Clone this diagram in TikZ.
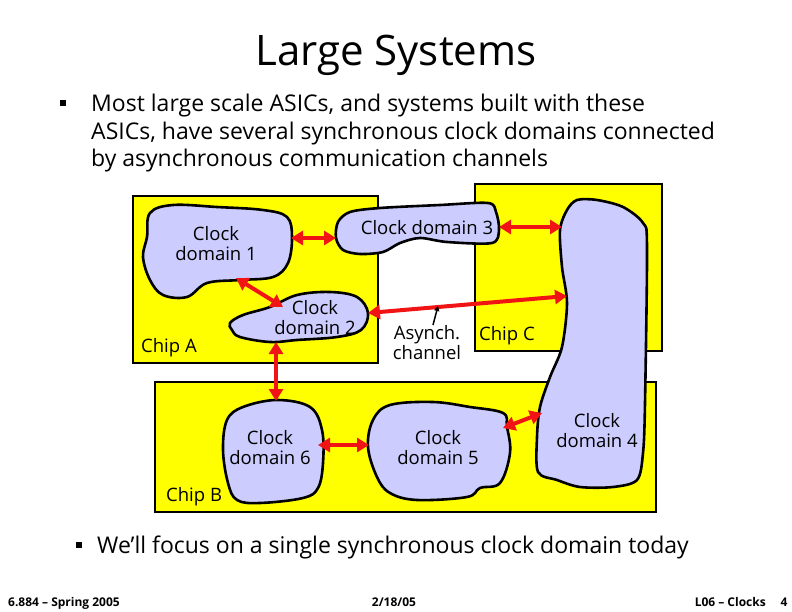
\documentclass[tikz,border=0pt]{standalone}
\usepackage{fontspec}
\setmainfont{Open Sans}
\usetikzlibrary{arrows.meta}
\definecolor{chipyellow}{RGB}{255,255,0}
\definecolor{blobblue}{RGB}{204,204,255}
\definecolor{arrowred}{RGB}{240,20,20}
\tikzset{
  chip/.style={fill=chipyellow,draw=black,line width=2pt},
  blob/.style={fill=blobblue,draw=black,line width=2.6pt,line join=round},
  link/.style={draw=arrowred,line width=4pt,{Triangle[width=14pt,length=12pt]}-{Triangle[width=14pt,length=12pt]}},
  lbl/.style={font=\fontsize{18.5}{20}\selectfont,align=center,inner sep=0pt},
  body/.style={font=\fontsize{23}{27}\selectfont,anchor=base west,inner sep=0pt},
  foot/.style={font=\fontsize{12}{13}\selectfont\bfseries,inner sep=0pt},
}
\begin{document}
\begin{tikzpicture}[x=1pt,y=-1pt]
\useasboundingbox (0,0) rectangle (792,612);
% title
\node[font=\fontsize{42}{44}\selectfont,inner sep=0pt,anchor=base] (title) at (396,66) {Large Systems};
% bullet 1
\node[inner sep=0pt,minimum size=6pt,fill=black] (b1) at (63,103) {};
\node[body] (t1) at (91,112) {Most large scale ASICs, and systems built with these};
\node[body] (t2) at (91,140) {ASICs, have several synchronous clock domains connected};
\node[body] (t3) at (91,167) {by asynchronous communication channels};
% chips
\path[chip] (475,184) rectangle (662,351);
\path[chip] (133,196) rectangle (378,363);
\path[chip] (155,382) rectangle (656,512);
% blobs
% CD1
\path[blob] plot[smooth cycle,tension=0.6] coordinates {(150,213) (173,205) (217,207) (263,210) (287,217) (292,237) (288,263) (273,277) (240,280) (207,283) (187,297) (163,295) (150,280) (143,257) (147,237)};
% CD3
\path[blob] plot[smooth cycle,tension=0.5] coordinates {(338,222) (350,212) (380,208) (440,205) (488,203) (496,212) (499,230) (492,243) (447,242) (420,238) (400,243) (383,252) (360,254) (343,250) (336,238)};
% CD2
\path[blob] plot[smooth cycle,tension=0.6] coordinates {(230,323) (243,315) (270,307) (297,295) (330,292) (357,297) (368,313) (361,330) (337,337) (297,340) (270,342) (240,337) (232,330)};
% CD4
\path[blob] plot[smooth cycle,tension=0.5] coordinates {(577,200) (597,200) (623,207) (643,223) (647,247) (645,403) (643,453) (637,480) (613,487) (580,487) (557,480) (538,472) (537,437) (540,407) (550,377) (562,347) (567,303) (562,267) (560,230) (567,210)};
% CD6
\path[blob] plot[smooth cycle,tension=0.6] coordinates {(243,407) (277,400) (310,407) (322,430) (323,463) (318,488) (303,498) (260,503) (237,500) (228,483) (223,450) (227,420)};
% CD5
\path[blob] plot[smooth cycle,tension=0.6] coordinates {(373,420) (390,405) (433,402) (470,407) (503,413) (507,427) (510,453) (500,483) (480,488) (467,497) (417,500) (390,493) (377,477) (368,447)};
% labels
\node[lbl] (cd1) at (216,244) {Clock\\domain 1};
\node[lbl] (cd3) at (427,228) {Clock domain 3};
\node[lbl] (cd2) at (315,318) {Clock\\domain 2};
\node[lbl] (cd4) at (597,431) {Clock\\domain 4};
\node[lbl] (cd6) at (270,448) {Clock\\domain 6};
\node[lbl] (cd5) at (438,448) {Clock\\domain 5};
\node[lbl,anchor=west] (chipA) at (141,348) {Chip A};
\node[lbl,anchor=west] (chipB) at (166,497) {Chip B};
\node[lbl,anchor=west] (chipC) at (479,336) {Chip C};
\node[lbl] (asynch) at (427,343) {Asynch.\\channel};
% connector end points
\coordinate (e1a) at (291,238); \coordinate (e1b) at (336,238);
\coordinate (e2a) at (236,278); \coordinate (e2b) at (283,307);
\coordinate (e3a) at (499,227); \coordinate (e3b) at (562,227);
\coordinate (e4a) at (368,313); \coordinate (e4b) at (567,296);
\coordinate (e5a) at (276,342); \coordinate (e5b) at (276,401);
\coordinate (e6a) at (318,445); \coordinate (e6b) at (369,445);
\coordinate (e7a) at (503,428); \coordinate (e7b) at (542,413);
\coordinate (p1) at (433,325); \coordinate (p2) at (438,306);
% connectors
\draw[link] (e1a) -- (e1b);
\draw[link] (e2a) -- (e2b);
\draw[link] (e3a) -- (e3b);
\draw[link] (e4a) -- (e4b);
\draw[link] (e5a) -- (e5b);
\draw[link] (e6a) -- (e6b);
\draw[link] (e7a) -- (e7b);
\draw[line width=1.5pt,-{Triangle[width=5pt,length=5pt]}] (p1) -- (p2);
% bullet 2
\node[inner sep=0pt,minimum size=6pt,fill=black] (b2) at (79,545) {};
\node[body] (t4) at (97,553) {We'll focus on a single synchronous clock domain today};
% footer
\node[foot,anchor=base west] (f1) at (8,606) {6.884 – Spring 2005};
\node[foot,anchor=base] (f2) at (394,606) {2/18/05};
\node[foot,anchor=base east] (f3) at (766,606) {L06 – Clocks};
\node[foot,anchor=base] (f4) at (784,606) {4};
\end{tikzpicture}
\end{document}
